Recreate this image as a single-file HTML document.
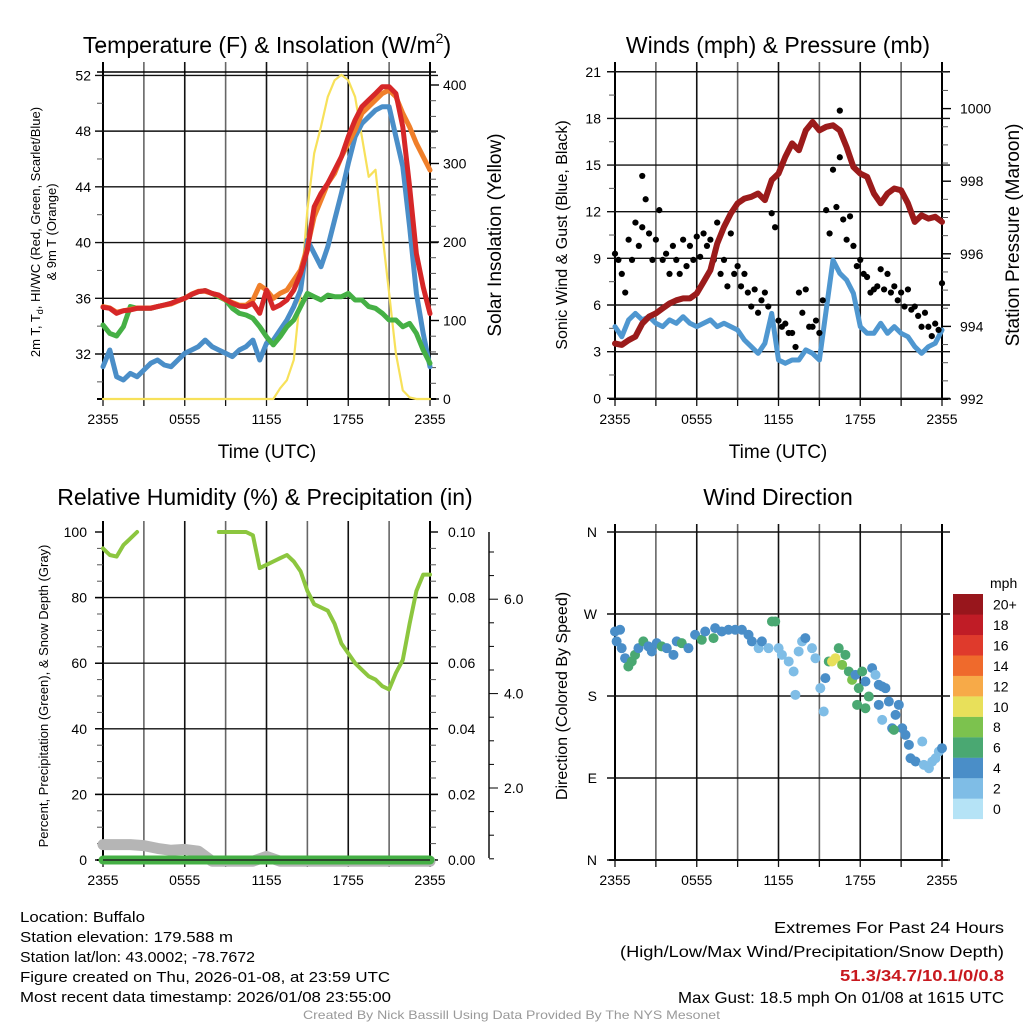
<!DOCTYPE html>
<html><head><meta charset="utf-8"><style>
html,body{margin:0;padding:0;background:#fff;}
svg{display:block;font-family:"Liberation Sans",sans-serif;}
</style></head><body>
<svg id="fig" width="1024" height="1024" viewBox="0 0 1024 1024">
<g id="bg"></g>
</svg>
<script>
// ---------- DATA (half-hourly from 2355 UTC, 49 points) ----------
const timeLabels = ["2355","0555","1155","1755","2355"];
const tempRed = [35.35,35.28,34.92,35.11,35.16,35.28,35.28,35.28,35.40,35.52,35.64,35.83,36.0,36.28,36.47,36.55,36.35,36.23,35.92,35.64,35.44,35.40,35.64,34.92,36.59,35.28,35.52,35.88,36.59,37.79,39.46,42.57,43.53,44.25,45.2,46.16,47.6,48.8,49.75,50.23,50.7,51.19,51.19,50.7,48.3,44.0,39.2,36.8,34.9];
const tempOrange = [35.4,35.3,35.0,35.1,35.2,35.3,35.3,35.3,35.4,35.5,35.6,35.8,36.0,36.3,36.5,36.5,36.35,36.2,35.9,35.7,35.5,35.5,35.88,36.93,36.59,36.0,36.35,36.59,37.31,38.03,39.7,41.86,43.05,44.25,44.97,46.16,47.12,48.08,49.27,49.75,50.23,50.7,50.95,50.47,49.27,48.3,47.12,46.16,45.2];
const dewGreen = [34.08,33.48,33.29,33.96,35.4,35.28,35.28,35.28,35.40,35.52,35.64,35.83,36.0,36.28,36.47,36.55,36.35,36.11,35.88,35.28,34.92,34.8,34.56,33.96,33.24,32.65,33.24,33.96,34.44,35.4,36.35,36.11,35.88,36.23,36.11,36.11,36.35,35.88,35.88,35.4,35.28,34.92,34.44,34.44,33.96,34.2,33.48,32.29,31.33];
const windChillBlue = [31.09,32.29,30.37,30.13,30.61,30.37,30.85,31.33,31.57,31.21,31.09,31.57,32.05,32.29,32.53,33.0,32.53,32.29,32.05,31.81,32.29,32.53,33.0,31.57,32.77,33.0,33.72,34.44,35.4,36.59,40.18,39.22,38.27,39.7,41.62,43.53,45.68,47.6,48.55,49.03,49.5,49.75,49.75,47.6,45.45,41.14,36.35,33.48,31.09];
const solar = [0,0,0,0,0,0,0,0,0,0,0,0,0,0,0,0,0,0,0,0,0,0,0,0,0,0,13.6,24,50,135,241,313,347,385,406,413,406,385,334,283,292,211,135,58,11,2,0,0,0];
const tempTicks = [32,36,40,44,48,52];
const solarTicks = [0,100,200,300,400];

const windBlue = [4.61,3.96,5.04,5.46,5.04,5.25,4.82,4.61,5.04,4.82,5.25,4.82,4.61,4.82,5.04,4.61,4.82,4.61,4.39,3.75,3.32,2.89,3.54,5.46,2.46,2.25,2.46,2.46,3.11,2.89,2.46,5.68,8.89,8.04,7.61,6.75,4.61,4.18,4.18,4.82,4.18,4.61,4.18,3.96,3.32,2.89,3.32,3.54,4.39];
const gustA = [9.3,8.0,10.2,11.3,11.0,10.6,10.2,8.9,8.0,8.9,10.2,9.8,10.4,10.6,10.2,11.3,8.9,10.6,8.5,8.0,5.9,5.5,6.8,11.9,5.0,4.8,4.2,6.8,7.0,4.6,4.2,12.1,14.7,15.5,10.2,9.8,8.9,7.8,7.0,8.3,8.0,7.2,6.8,7.0,5.9,4.6,4.6,4.8,7.4];
const gustB = [8.9,6.8,8.9,9.8,12.8,8.9,12.1,9.3,9.8,8.0,8.5,8.9,9.1,9.8,8.9,8.0,7.2,8.0,7.2,6.8,7.0,6.3,5.9,11.0,4.6,4.2,3.3,5.5,4.6,5.0,6.3,10.6,12.3,11.5,11.7,8.5,8.0,6.8,7.2,7.0,6.8,6.3,5.9,5.7,5.3,5.5,4.0,4.4,6.3];
const gustExtraIdx = [4,33];
const gustExtraVal = [14.3,18.5];
const pressure = [993.53,993.49,993.62,993.72,994.08,994.27,994.36,994.5,994.63,994.72,994.77,994.77,994.91,995.23,995.55,996.28,996.74,997.11,997.39,997.52,997.57,997.66,997.48,998.03,998.21,998.67,999.04,998.85,999.4,999.63,999.4,999.5,999.54,999.4,998.94,998.39,998.21,998.12,997.66,997.39,997.66,997.8,997.75,997.39,996.88,997.06,996.97,997.02,996.88];
const windTicks = [0,3,6,9,12,15,18,21];
const presTicks = [992,994,996,998,1000];

const rh = [95,93,92.5,96,98,100,null,null,null,null,null,null,null,null,null,null,null,100,100,100,100,100,99,89,90,91,92,93,91,88,82,78,77,76,72,66,63,60,58,56,55,53,52,57,61,72,82,87,87];
const snowHourly = [0.8,0.8,0.8,0.78,0.72,0.68,0.7,0.66,0.45,0.45,0.45,0.45,0.55,0.45,0.45,0.45,0.45,0.45,0.45,0.45,0.45,0.45,0.45,0.45,0.45];
const precip = [0,0,0,0,0,0,0,0,0,0,0,0,0,0,0,0,0,0,0,0,0,0,0,0,0];
const rhTicks = [0,20,40,60,80,100];
const precipTicks = ["0.00","0.02","0.04","0.06","0.08","0.10"];
const snowTicks = ["2.0","4.0","6.0"];

const dirHours = [0,0.12,0.37,0.49,0.74,0.98,1.23,1.47,1.72,2.08,2.45,2.70,3.06,3.43,3.80,4.29,4.53,4.90,5.39,5.88,6.37,6.62,7.23,7.35,7.84,8.33,8.82,9.31,9.80,10.05,10.54,10.78,11.27,11.52,11.76,12.01,12.25,12.75,13.11,13.24,13.48,13.73,13.97,14.46,14.71,15.07,15.32,15.44,15.69,15.93,16.18,16.42,16.67,16.91,17.16,17.40,17.65,17.89,18.14,18.38,18.63,18.87,19.12,19.36,19.61,19.85,19.36,19.61,20.10,20.34,20.59,20.83,21.08,21.32,21.57,21.69,22.06,22.55,22.67,23.04,23.28,23.53,23.77,24.0,17.77,18.38,20.47];
const dirDeg = [250.8,239.9,252.7,232.5,221.5,212.4,217.9,225.2,232.5,239.9,234.4,228.9,238.0,234.4,232.5,225.2,239.9,238.0,232.5,247.2,241.7,250.8,243.5,254.5,250.8,252.7,252.7,252.7,247.2,239.9,232.5,239.9,232.5,261.8,261.8,232.5,225.2,217.9,206.9,181.3,228.9,239.9,243.5,232.5,221.5,188.6,163.0,199.6,217.9,217.9,221.5,232.5,214.2,225.2,206.9,197.7,203.2,188.6,206.9,195.9,179.4,210.6,203.2,192.3,190.4,188.6,170.3,153.8,173.9,144.6,159.3,170.3,144.6,137.3,126.4,111.7,108.1,130.0,104.4,100.7,108.0,111.7,119.0,122.7,170.3,166.6,142.8];
const dirSpeed = [4,4,4,4,4,6,6,6,4,6,4,4,4,6,4,4,4,6,4,4,6,4,6,4,4,4,4,4,4,4,2,4,2,6,6,2,2,2,2,2,2,2,4,2,2,2,2,4,6,10,10,6,8,6,6,8,4,6,6,4,6,4,2,4,4,4,4,2,4,4,4,4,4,4,4,4,4,2,2,2,2,2,2,4,6,6,6];
const dirLabels = ["N","E","S","W","N"];
const speedBins = ["0","2","4","6","8","10","12","14","16","18","20+"];
const speedColors = ["#b5e3f6","#7fbde6","#4a8ec8","#4aa872","#7cc24e","#e8e05a","#f7aa48","#ef6a2c","#df3a2c","#c01c26","#98161c"];

// ---------- helpers ----------
const NS="http://www.w3.org/2000/svg";
const svg=document.getElementById('fig');
function el(tag,attrs,parent){const e=document.createElementNS(NS,tag);for(const k in attrs)e.setAttribute(k,attrs[k]);(parent||svg).appendChild(e);return e;}
function txt(s,attrs,parent){const e=el('text',attrs,parent);e.textContent=s;return e;}

function panelFrame(P,name,topBorder){
  const g=el('g',{});
  
  
  for(let h=3;h<24;h+=3){const x=P.x0+h/24*(P.x1-P.x0);
    const l=el('line',{x1:x,x2:x,y1:P.gt,y2:P.y1,stroke:(h%6===0?'#111':'#666'),'stroke-width':1.6},g);
    }
  for(let h=0;h<=24;h+=3){const x=P.x0+h/24*(P.x1-P.x0);
    el('line',{x1:x,x2:x,y1:P.y1,y2:P.y1+7,stroke:'#111','stroke-width':1.3},g);}
  timeLabels.forEach((s,k)=>{const x=P.x0+k*6/24*(P.x1-P.x0);
    const t=txt(s,{x:x,y:P.y1+25,'font-size':14,'text-anchor':'middle',fill:'#000'},g);
    });
  el('line',{x1:P.x0,x2:P.x0,y1:P.gt,y2:P.y1,stroke:'#000','stroke-width':2},g);
  el('line',{x1:P.x1,x2:P.x1,y1:P.gt,y2:P.y1,stroke:'#000','stroke-width':2},g);
  el('line',{x1:P.x0-6,x2:P.x1+6,y1:P.y1,y2:P.y1,stroke:'#000','stroke-width':2},g);
  if(topBorder) el('line',{x1:P.x0-6,x2:P.x1+6,y1:P.y0,y2:P.y0,stroke:'#000','stroke-width':1.5},g);
  return g;
}
function hgrid(g,P,y){el('line',{x1:P.x0-8,x2:P.x1+8,y1:y,y2:y,stroke:'#111','stroke-width':1.4},g);}
function minorL(g,x,y){el('line',{x1:x-6,x2:x,y1:y,y2:y,stroke:'#555','stroke-width':1},g);}
function minorR(g,x,y){el('line',{x1:x,x2:x+6,y1:y,y2:y,stroke:'#555','stroke-width':1},g);}
function poly(pts,attrs,name,parent){let d='';let pen=false;
  pts.forEach(p=>{if(p==null){pen=false;return;}d+=(pen?'L':'M')+p[0].toFixed(1)+' '+p[1].toFixed(1);pen=true;});
  const e=el('path',Object.assign({d:d,fill:'none','stroke-linejoin':'round','stroke-linecap':'round'},attrs),parent);
  return e;}
function vtext(s,x,y,size,name,extra){const t=txt(s,Object.assign({x:x,y:y,'font-size':size,'text-anchor':'middle',transform:`rotate(-90 ${x} ${y})`},extra||{}));
  return t;}
function title(s,x,y,name){const t=txt(s,{x:x,y:y,'font-size':23,'text-anchor':'middle'});return t;}

// ---------- Panel 1: Temperature ----------
const P1={x0:103,x1:430,y0:72,y1:399,gt:62};
const xh1=i=>P1.x0+i/48*(P1.x1-P1.x0);
const yT=v=>354-(v-32)*13.93;
const yS=v=>399-v*0.785;
const g1=panelFrame(P1,'temperature-panel',true);
tempTicks.forEach(v=>{const y=yT(v);hgrid(g1,P1,y);
  const t=txt(String(v),{x:P1.x0-12,y:y+5,'font-size':14,'text-anchor':'end'},g1);
  
  minorL(g1,P1.x0,yT(v+2));});
minorL(g1,P1.x0,yT(30));
for(let v=0;v<=400;v+=20){const y=yS(v);if(v%100===0){el('line',{x1:P1.x1,x2:P1.x1+9,y1:y,y2:y,stroke:'#000','stroke-width':1.4},g1);}else minorR(g1,P1.x1,y);}
solarTicks.forEach(v=>{const t=txt(String(v),{x:P1.x1+13,y:yS(v)+5,'font-size':14},g1);
  });
poly(solar.map((v,i)=>[xh1(i),yS(v)]),{stroke:'#f7e15a','stroke-width':2.2},'solar-line',g1);
poly(windChillBlue.map((v,i)=>[xh1(i),yT(v)]),{stroke:'#4a8ec8','stroke-width':5},'windchill-line',g1);
poly(dewGreen.map((v,i)=>[xh1(i),yT(v)]),{stroke:'#45b045','stroke-width':5},'dewpoint-line',g1);
poly(tempOrange.map((v,i)=>[xh1(i),yT(v)]),{stroke:'#f07f2a','stroke-width':5},'temp-9m-line',g1);
poly(tempRed.map((v,i)=>[xh1(i),yT(v)]),{stroke:'#d62728','stroke-width':5},'temp-2m-line',g1);
{const t=el('text',{x:267,y:53,'font-size':23,'text-anchor':'middle'});
 
 t.innerHTML='Temperature (F) &amp; Insolation (W/m<tspan font-size="14" dy="-10">2</tspan><tspan dy="10">)</tspan>';}
{const t=txt('Time (UTC)',{x:267,y:458,'font-size':19,'text-anchor':'middle'});}
vtext('Solar Insolation (Yellow)',501,235,19,'solar-axis-title');
{const t=el('text',{x:40,y:232,'font-size':13,'text-anchor':'middle',transform:'rotate(-90 40 232)'});
 
 t.innerHTML='2m T, T<tspan font-size="9" dy="3">d</tspan><tspan dy="-3">, HI/WC (Red, Green, Scarlet/Blue)</tspan>';
 vtext('& 9m T (Orange)',56,232,13,'temp-axis-title-2');}

// ---------- Panel 2: Winds ----------
const P2={x0:615,x1:942,y0:72,y1:399,gt:62};
const xh2=i=>P2.x0+i/48*(P2.x1-P2.x0);
const yW=v=>398.3-v*15.55;
const yP=v=>399-(v-992)*36.3;
const g2=panelFrame(P2,'winds-panel',false);
windTicks.forEach(v=>{const y=yW(v);hgrid(g2,P2,y);
  const t=txt(String(v),{x:P2.x0-14,y:y+5,'font-size':14,'text-anchor':'end'},g2);
  
  if(v<21)minorL(g2,P2.x0,yW(v+1.5));});
for(let v=992;v<=1001;v+=0.5){const y=yP(v);if(y<72)continue;if(v%2===0)el('line',{x1:P2.x1,x2:P2.x1+9,y1:y,y2:y,stroke:'#000','stroke-width':1.4},g2);else minorR(g2,P2.x1,y);}
presTicks.forEach(v=>{const t=txt(String(v),{x:P2.x1+18,y:yP(v)+5,'font-size':14},g2);
  });
poly(windBlue.map((v,i)=>[xh2(i),yW(v)]),{stroke:'#4f97d0','stroke-width':5},'sonic-wind-line',g2);
gustA.forEach((v,i)=>{const c=el('circle',{cx:xh2(i),cy:yW(v),r:3.1,fill:'#000'},g2);});
gustB.forEach((v,i)=>{if(i>=48)return;const c=el('circle',{cx:xh2(i+0.5),cy:yW(v),r:3.1,fill:'#000'},g2);});
gustExtraIdx.forEach((ix,k)=>{const c=el('circle',{cx:xh2(ix),cy:yW(gustExtraVal[k]),r:3.1,fill:'#000'},g2);});
poly(pressure.map((v,i)=>[xh2(i),yP(v)]),{stroke:'#9b1b1b','stroke-width':6},'pressure-line',g2);
title('Winds (mph) & Pressure (mb)',778,53,'winds-title');
{const t=txt('Time (UTC)',{x:778,y:458,'font-size':19,'text-anchor':'middle'});}
vtext('Sonic Wind & Gust (Blue, Black)',567,235,16,'wind-axis-title');
vtext('Station Pressure (Maroon)',1019,235,19,'pressure-axis-title');

// ---------- Panel 3: RH ----------
const P3={x0:103,x1:430,y0:532,y1:860,gt:521};
const xh3=i=>P3.x0+i/48*(P3.x1-P3.x0);
const yR=v=>860-v*3.28;
const ySn=v=>788-(v-2)*47.2;
const g3=panelFrame(P3,'humidity-panel',false);
rhTicks.forEach((v,k)=>{const y=yR(v);if(v>0&&v<100)hgrid(g3,P3,y);
  el('line',{x1:P3.x0-8,x2:P3.x0,y1:y,y2:y,stroke:'#000','stroke-width':1.4},g3);
  el('line',{x1:P3.x1,x2:P3.x1+8,y1:y,y2:y,stroke:'#000','stroke-width':1.4},g3);
  const t=txt(String(v),{x:P3.x0-16,y:y+5,'font-size':14,'text-anchor':'end'},g3);
  
  const t2=txt(precipTicks[k],{x:P3.x1+18,y:y+5,'font-size':14},g3);
  });
for(let v=5;v<100;v+=5){if(v%20){minorL(g3,P3.x0,yR(v));minorR(g3,P3.x1,yR(v));}}
el('line',{x1:489,x2:489,y1:532,y2:858,stroke:'#000','stroke-width':1.4},g3);
for(let v=0.5;v<7.5;v+=0.5){const y=ySn(v);if(y<532||y>860)continue;
  el('line',{x1:489,x2:(v%2===0?498:494),y1:y,y2:y,stroke:'#000','stroke-width':1},g3);}
snowTicks.forEach(s=>{const t=txt(s,{x:504,y:ySn(parseFloat(s))+5,'font-size':14},g3);
  });
poly(snowHourly.map((v,h)=>[P3.x0+h/24*(P3.x1-P3.x0),ySn(v)]),{stroke:'#b5b5b5','stroke-width':11},'snow-depth-line',g3);
poly(precip.map((v,h)=>[P3.x0+h/24*(P3.x1-P3.x0),860-v*3280]),{stroke:'#45b045','stroke-width':9},'precip-line',g3);
el('line',{x1:P3.x0,x2:P3.x1,y1:860,y2:860,stroke:'#222','stroke-width':1.5},g3);
poly(rh.map((v,i)=>v==null?null:[xh3(i),yR(v)]),{stroke:'#8cc63f','stroke-width':4},'rh-line',g3);
title('Relative Humidity (%) & Precipitation (in)',265,505,'humidity-title');
vtext('Percent, Precipitation (Green), & Snow Depth (Gray)',48,696,13,'rh-axis-title');

// ---------- Panel 4: Wind direction ----------
const P4={x0:615,x1:942,y0:532,y1:860,gt:524};
const xd=h=>P4.x0+h/24*(P4.x1-P4.x0);
const yD=v=>860-v*(328/360);
const g4=panelFrame(P4,'wind-direction-panel',false);
dirLabels.forEach((s,k)=>{const y=yD(k*90);hgrid(g4,P4,y);
  const t=txt(s,{x:P4.x0-18,y:y+5,'font-size':14,'text-anchor':'end'},g4);
  });
dirHours.forEach((h,k)=>{const c=el('circle',{cx:xd(h),cy:yD(dirDeg[k]),r:5,fill:speedColors[Math.min(10,Math.round(dirSpeed[k]/2))]},g4);
  });
title('Wind Direction',778,505,'wind-direction-title');
vtext('Direction (Colored By Speed)',567,696,16,'direction-axis-title');
{const cb=el('g',{});
 const t=txt('mph',{x:990,y:588,'font-size':14},cb);
 speedBins.forEach((s,k)=>{const top=594+(10-k)*20.45;
  const r=el('rect',{x:953,y:top,width:30,height:20.6,fill:speedColors[k]},cb);
  const l=txt(s,{x:993,y:top+15.5,'font-size':14},cb);});}

// ---------- Footer text ----------
const leftLines=["Location: Buffalo","Station elevation: 179.588 m","Station lat/lon: 43.0002; -78.7672","Figure created on Thu, 2026-01-08, at 23:59 UTC","Most recent data timestamp: 2026/01/08 23:55:00"];
const leftW=[125,213,235,370,371];
leftLines.forEach((s,k)=>{const t=txt(s,{x:20,y:922+k*20,'font-size':15,textLength:leftW[k],lengthAdjust:'spacingAndGlyphs'});
  });
const rightLines=[["Extremes For Past 24 Hours",933,'#000','normal',230],["(High/Low/Max Wind/Precipitation/Snow Depth)",957,'#000','normal',384],["51.3/34.7/10.1/0/0.8",981,'#c8191f','bold',164],["Max Gust: 18.5 mph On 01/08 at 1615 UTC",1003,'#000','normal',326]];
rightLines.forEach(r=>{const t=txt(r[0],{x:1004,y:r[1],'font-size':16,'text-anchor':'end',fill:r[2],'font-weight':r[3],textLength:r[4],lengthAdjust:'spacingAndGlyphs'});
  });
{const t=txt('Created By Nick Bassill Using Data Provided By The NYS Mesonet',{x:303,y:1019,'font-size':12,fill:'#999',textLength:417,lengthAdjust:'spacingAndGlyphs'});
 }
</script>
</body></html>
